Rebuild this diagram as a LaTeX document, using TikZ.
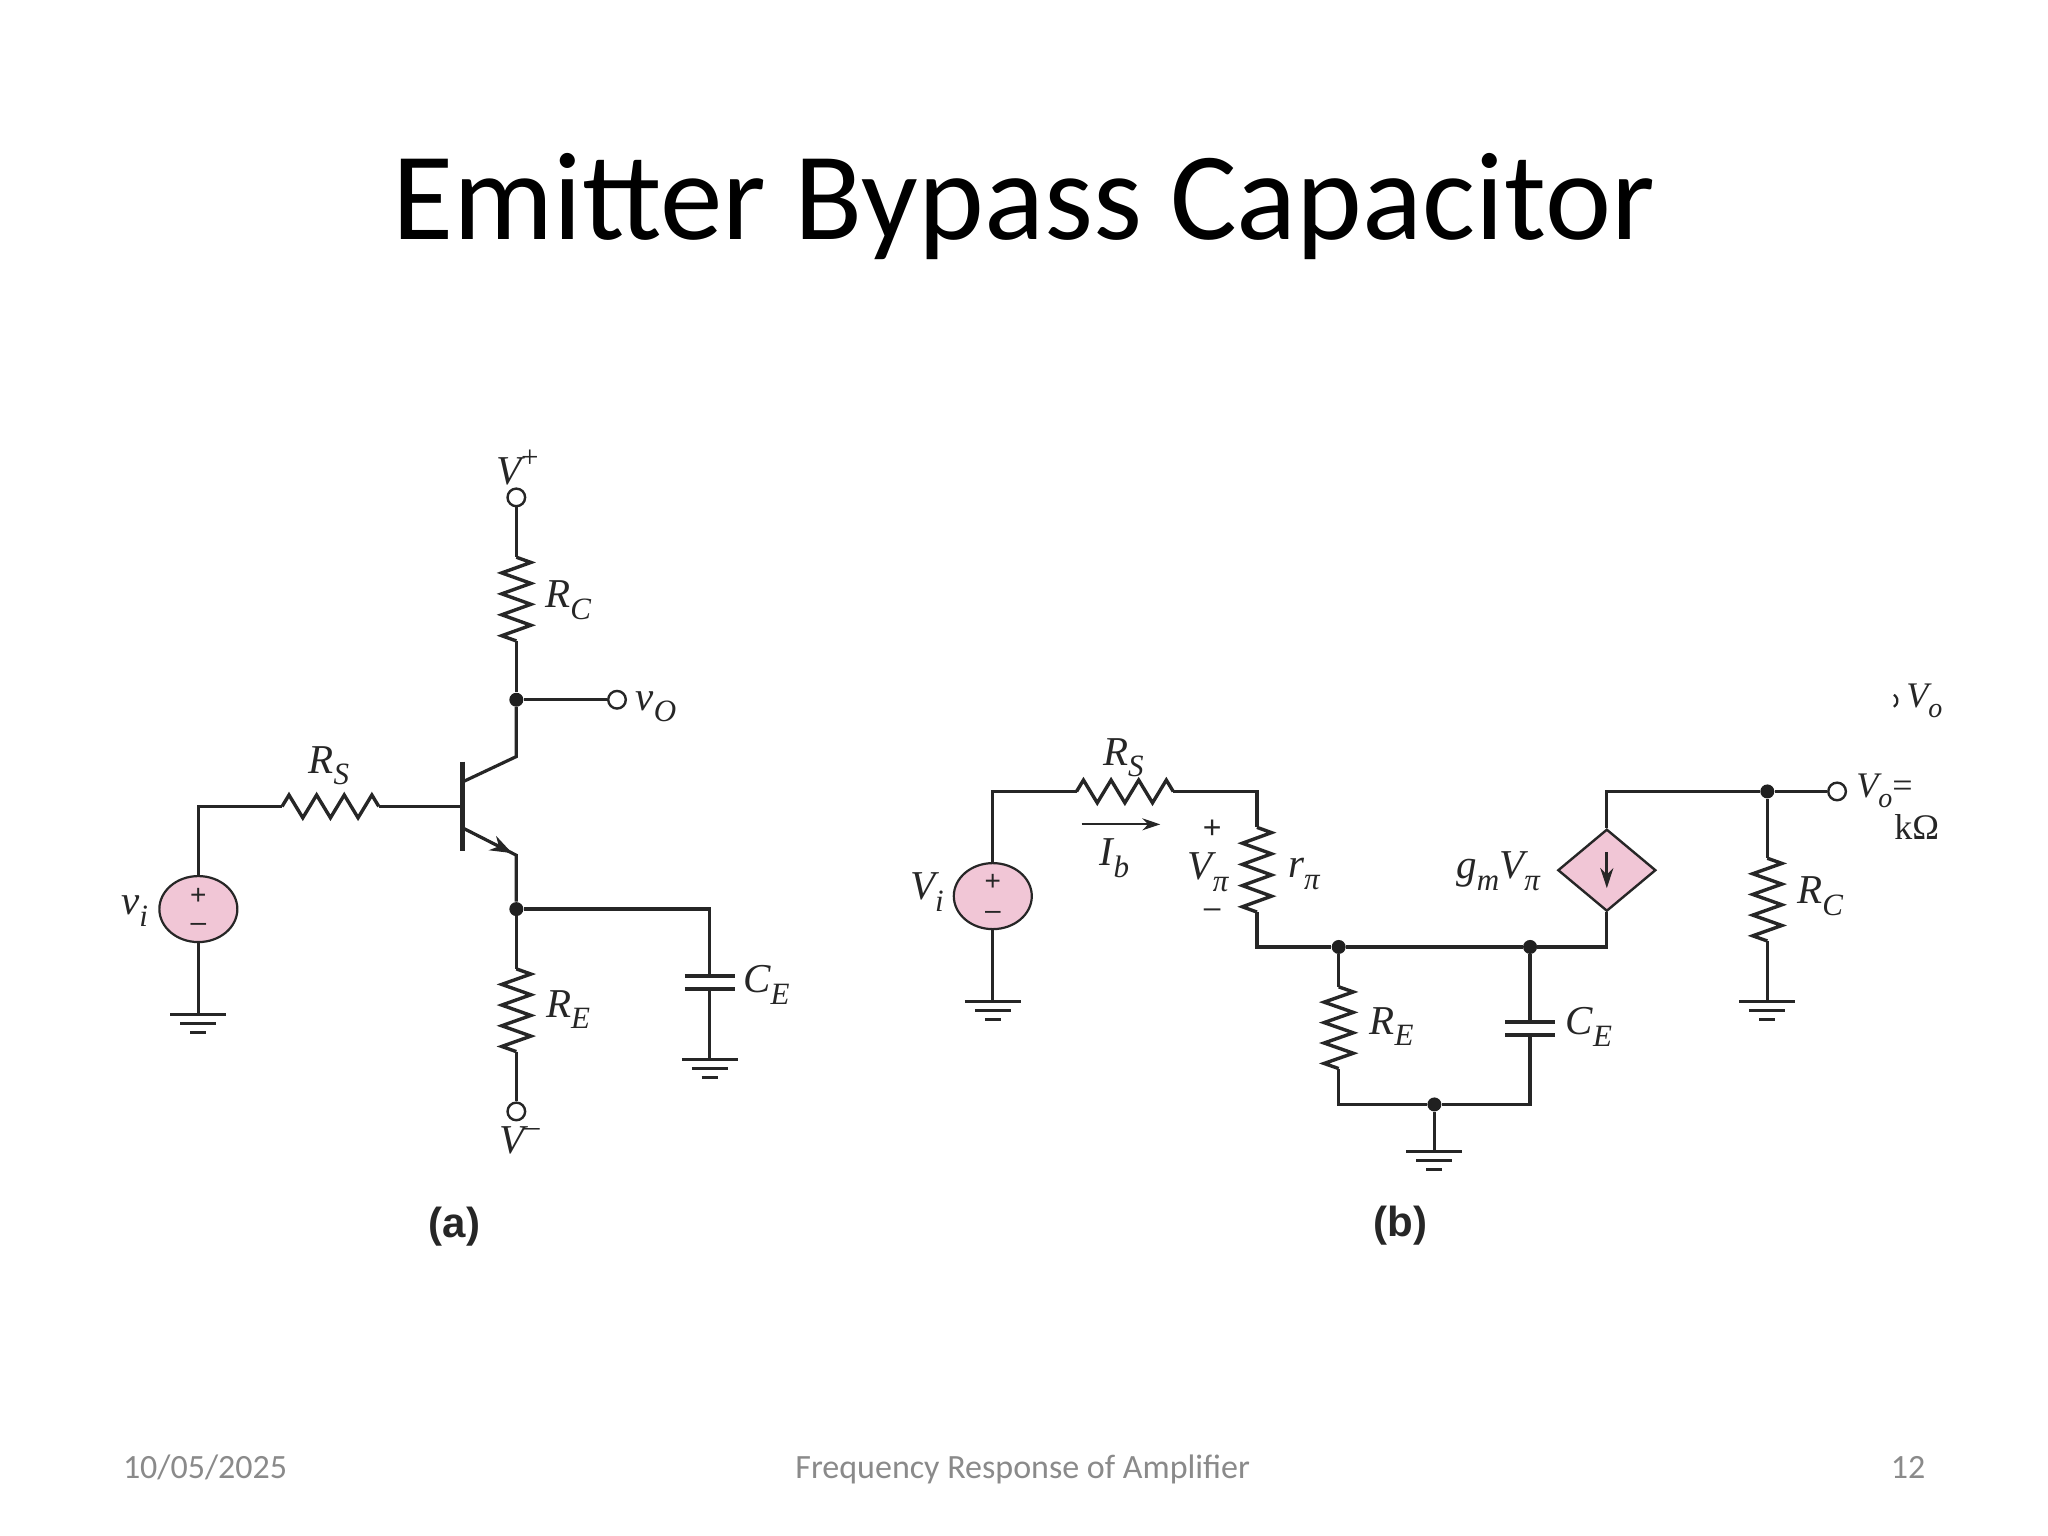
\documentclass[tikz,border=0pt]{standalone}
\usepackage{fontspec}
\usetikzlibrary{shapes.geometric,arrows.meta,calc}
\setmainfont{Carlito}
\newfontfamily\lbl{Liberation Serif}
\newfontfamily\capl{Liberation Sans}
\definecolor{ink}{HTML}{262626}
\definecolor{pinkfill}{HTML}{F1C6D6}
\definecolor{foot}{HTML}{8A8A8A}
\newcommand{\sbs}[1]{\raisebox{-.28em}{\fontsize{15.5}{16}\selectfont #1}}
\newcommand{\sbt}[1]{\raisebox{-.28em}{\fontsize{14}{15}\selectfont #1}}
\newcommand{\sps}[1]{\raisebox{.42em}{\fontsize{15.5}{16}\selectfont #1}}
\newcommand{\resis}[4]{\draw[wire,line width=1.7pt] (#1)
  \foreach \i [evaluate=\i as \s using {2*mod(\i,2)-1}] in {1,...,#4}
    { -- ($(#1)!{(\i-0.5)/#4}!(#2)!{\s*#3pt}!90:(#2)$) } -- (#2);}
\tikzset{
  x=0.4984pt,y=-0.4984pt,
  wire/.style={draw=ink,line width=1.6pt,line join=miter},
  dotj/.style={circle,fill=ink!85!black,inner sep=0pt,minimum size=7pt},
  term/.style={circle,draw=ink,fill=white,line width=1.2pt,inner sep=0pt,minimum size=8.8pt},
  srcv/.style={ellipse,draw=ink,fill=pinkfill,line width=1.1pt,inner sep=0pt,minimum width=39pt,minimum height=33pt},
  dep/.style={diamond,draw=ink,fill=pinkfill,line width=1.2pt,inner sep=0pt,minimum width=49pt,minimum height=41pt},
  lab/.style={inner sep=0pt,text=ink,font=\lbl\itshape\fontsize{20.5}{22}\selectfont},
  labr/.style={inner sep=0pt,text=ink,font=\lbl\itshape\fontsize{18}{20}\selectfont},
  upr/.style={inner sep=0pt,text=ink,font=\lbl\fontsize{18}{20}\selectfont},
  sgn/.style={inner sep=0pt,text=ink,font=\capl\fontsize{14}{15}\selectfont},
  plate/.style={draw=ink,line width=2pt},
  capt/.style={inner sep=0pt,text=ink,font=\capl\bfseries\fontsize{21}{23}\selectfont},
  ftr/.style={inner sep=0pt,text=foot,font=\fontsize{17}{19}\selectfont},
  gnd/.pic={
    \draw[draw=ink,line width=1.6pt] (-28,0)--(28,0) (-18,9)--(18,9) (-8,18)--(8,18);
  }
}
\begin{document}
\begin{tikzpicture}
\useasboundingbox[fill=white] (0,0) rectangle (2054.6,1540.9);
\node[inner sep=0pt,anchor=base,text=black,font=\fontsize{62.6}{66}\selectfont] (title) at (1027,240) {Emitter Bypass Capacitor};
\node[ftr,anchor=base west] (date) at (123,1483) {10/05/2025};
\node[ftr,anchor=base] (ftitle) at (1026,1483) {Frequency Response of Amplifier};
\node[ftr,anchor=base east] (pg) at (1932,1483) {12};

% ---- circuit (a)
\node[term] (vp) at (518,499) {};
\coordinate (rct) at (518,559);
\coordinate (rcb) at (518,643);
\node[dotj] (ja) at (518,702) {};
\node[term] (vo) at (619,702) {};
\coordinate (col) at (518,759);
\coordinate (colb) at (465,784);
\coordinate (base) at (464,809);
\coordinate (basetop) at (464,764);
\coordinate (basebot) at (464,854);
\coordinate (emb) at (465,831);
\coordinate (em) at (518,858);
\node[dotj] (jb) at (518,912) {};
\coordinate (ret) at (518,972);
\coordinate (reb) at (518,1055);
\node[term] (vm) at (518,1115) {};
\coordinate (rsl) at (283,809);
\coordinate (rsr) at (380,809);
\node[srcv] (src) at (199,912) {};
\coordinate (corn) at (199,809);
\coordinate (ga) at (199,1018);
\coordinate (cn) at (712,912);
\coordinate (cp1) at (712,979);
\coordinate (cp2) at (712,992);
\coordinate (gc) at (712,1063);

\draw[wire] (vp)--(rct);
\resis{rct}{rcb}{7.3}{8}
\draw[wire] (rcb)--(ja);
\draw[wire] (ja)--(vo);
\draw[wire] (ja)--(col)--(colb);
\draw[draw=ink,line width=2.8pt] (basetop)--(basebot);
\draw[wire] (base)--(rsr);
\resis{rsl}{rsr}{5.7}{7}
\draw[wire] (rsl)--(corn)--(src);
\draw[wire] (src)--(ga);
\draw[wire] (emb)--(em)--(jb);
\draw[-{Stealth[length=11pt,width=8pt]},draw=ink,line width=1.2pt] (emb)--($(em)!0.08!(emb)$);
\draw[wire] (jb)--(ret);
\resis{ret}{reb}{7.3}{8}
\draw[wire] (reb)--(vm);
\draw[wire] (jb)--(cn)--(cp1);
\draw[wire] (cp2)--(gc);
\draw[plate] (687,979)--(737,979) (687,992)--(737,992);
\pic at (ga) {gnd};
\pic at (gc) {gnd};
\node[sgn] (sp1) at (199,899) {+};
\node[sgn] (sm1) at (199,930) {–};
\node[lab] (lvp) at (519,469) {V\sps{\upshape +}};
\node[lab] (lrc) at (570,602) {R\sbs{C}};
\node[lab] (lvo) at (658,709) {v\sbs{O}};
\node[lab] (lrs) at (330,768) {R\sbs{S}};
\node[lab] (lvi) at (135,914) {v\sbs{i}};
\node[lab] (lre) at (570,1013) {R\sbs{E}};
\node[lab] (lce) at (769,988) {C\sbs{E}};
\node[lab] (lvm) at (521,1144) {V\sps{\upshape –}};
\node[capt] (capa) at (456,1231) {(a)};

% ---- circuit (b)
\node[srcv] (srcb) at (996,899) {};
\coordinate (bc1) at (996,794);
\coordinate (brsl) at (1080,794);
\coordinate (brsr) at (1177,794);
\coordinate (bc2) at (1261,794);
\coordinate (rpt) at (1261,830);
\coordinate (rpb) at (1261,915);
\coordinate (bc3) at (1261,950);
\node[dotj] (j1) at (1343,950) {};
\node[dotj] (j2) at (1535,950) {};
\coordinate (bc4) at (1612,950);
\node[dep] (gm) at (1612,873) {};
\coordinate (bc5) at (1612,794);
\node[dotj] (j3) at (1773,794) {};
\node[term] (vob) at (1843,794) {};
\coordinate (brct) at (1773,861);
\coordinate (brcb) at (1773,944);
\coordinate (g2) at (1773,1005);
\coordinate (g1) at (996,1005);
\coordinate (bret) at (1343,990);
\coordinate (breb) at (1343,1072);
\coordinate (bc6) at (1343,1108);
\node[dotj] (j4) at (1439,1108) {};
\coordinate (bc7) at (1535,1108);
\coordinate (bcp1) at (1535,1025);
\coordinate (bcp2) at (1535,1038);
\coordinate (g3) at (1439,1155);
\coordinate (ibl) at (1085,827);
\coordinate (ibr) at (1164,827);
\coordinate (dt) at (1612,855);
\coordinate (db) at (1612,891);
\coordinate (parc) at (1900,697);

\draw[wire] (srcb)--(bc1)--(brsl);
\resis{brsl}{brsr}{5.7}{7}
\draw[wire] (brsr)--(bc2)--(rpt);
\resis{rpt}{rpb}{7.3}{8}
\draw[wire] (rpb)--(bc3)--(j1)--(j2)--(bc4)--(gm);
\draw[wire] (gm)--(bc5)--(j3)--(vob);
\draw[wire] (j3)--(brct);
\resis{brct}{brcb}{7.3}{8}
\draw[wire] (brcb)--(g2);
\draw[wire] (srcb)--(g1);
\draw[wire] (j1)--(bret);
\resis{bret}{breb}{7.3}{8}
\draw[wire] (breb)--(bc6)--(j4)--(bc7)--(bcp2);
\draw[wire] (j2)--(bcp1);
\draw[plate] (1510,1025)--(1560,1025) (1510,1038)--(1560,1038);
\draw[wire] (j4)--(g3);
\pic at (g1) {gnd};
\pic at (g2) {gnd};
\pic at (g3) {gnd};
\draw[-{Stealth[length=9pt,width=6pt]},draw=ink,line width=1.1pt] (ibl)--(ibr);
\draw[-{Stealth[length=10pt,width=6.5pt]},draw=ink,line width=1.4pt] (dt)--(db);
\draw[draw=ink,line width=1.1pt] (parc) arc[start angle=-60,end angle=60,radius=7];
\node[sgn] (sp2) at (996,885) {+};
\node[sgn] (sm2) at (996,918) {–};
\node[lab] (blvi) at (930,895) {V\sbs{i}};
\node[lab] (blrs) at (1127,760) {R\sbs{S}};
\node[lab] (blib) at (1118,861) {I\sbs{b}};
\node[sgn,font=\capl\fontsize{16}{17}\selectfont] (bpl) at (1216,832) {+};
\node[lab] (blvp) at (1212,875) {V\sbs{π}};
\node[sgn,font=\capl\fontsize{15}{16}\selectfont] (bmi) at (1216,916) {–};
\node[lab] (blrp) at (1308,877) {r\sbs{π}};
\node[lab] (blgm) at (1503,874) {g\sbs{m}V\sbs{π}};
\node[lab] (blrc) at (1826,899) {R\sbs{C}};
\node[lab] (blre) at (1396,1030) {R\sbs{E}};
\node[lab] (blce) at (1594,1030) {C\sbs{E}};
\node[labr,anchor=west] (blvo) at (1862,793) {V\sbt{o}\upshape=};
\node[upr,anchor=west] (blk) at (1900,830) {kΩ};
\node[labr,anchor=west] (blvt) at (1912,703) {V\sbt{o}};
\node[capt] (capb) at (1405,1230) {(b)};
\end{tikzpicture}
\end{document}
